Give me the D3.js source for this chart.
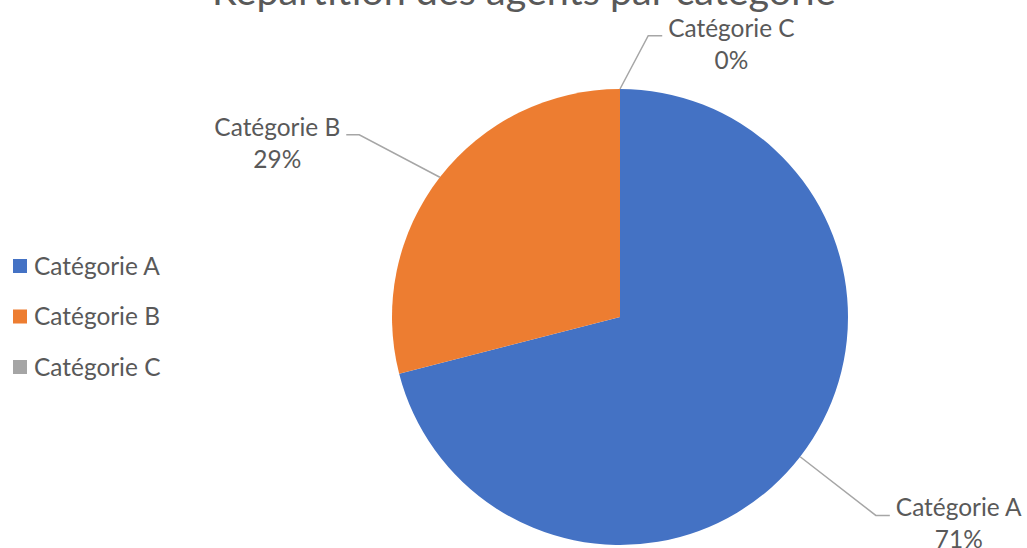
<!DOCTYPE html>
<html lang="fr">
<head>
<meta charset="utf-8">
<title>Répartition des agents par catégorie</title>
<script src="https://d3js.org/d3.v7.min.js"></script>
<style>
  html, body { margin: 0; padding: 0; background: #fff; }
  svg { display: block; }
  text { font-family: Lato, "Open Sans", sans-serif; fill: #595959; }
</style>
</head>
<body>
<svg id="chart" width="1027" height="548"></svg>
<script>
// data
var categories = ['Catégorie A', 'Catégorie B', 'Catégorie C'];
var values = [71, 29, 0];
var colors = ['#4472C4', '#ED7D31', '#A5A5A5'];
var title = 'Répartition des agents par catégorie';

var width = 1027, height = 548;
var cx = 620, cy = 317, radius = 228;

var svg = d3.select('#chart');

// scale a font size so that a sample string has the wanted width
function fitSize(str, target, guess) {
    var t = svg.append('text').style('font-size', guess + 'px').text(str);
    var w = t.node().getComputedTextLength();
    t.remove();
    return guess * target / w;
}
var labelSize = fitSize('Catégorie B', 126, 20);
var titleSize = fitSize(title, 624, 30);

// title, cut at the top like the original
svg.append('text')
    .attr('x', 524)
    .attr('y', 5)
    .attr('text-anchor', 'middle')
    .style('font-size', titleSize + 'px')
    .text(title);

var pie = d3.pie().sort(null).value(function (d) { return d; });
var arcs = pie(values);
var arc = d3.arc().innerRadius(0).outerRadius(radius);

var g = svg.append('g').attr('transform', 'translate(' + cx + ',' + cy + ')');

g.selectAll('path.slice')
    .data(arcs)
    .enter().append('path')
    .attr('class', 'slice')
    .attr('d', arc)
    .attr('fill', function (d, i) { return colors[i]; });

// data labels with leader lines
var total = d3.sum(values);
var elbowRadius = [1.42, 1.395, 1.24];
var elbowTurn = [0, -0.05, 0.1]; // small angular nudges, as the original placed them
var leader = d3.line();

arcs.forEach(function (d, i) {
    var mid = (d.startAngle + d.endAngle) / 2;
    var p0 = [radius * Math.sin(mid), -radius * Math.cos(mid)];
    var a1 = mid + elbowTurn[i];
    var p1 = [radius * elbowRadius[i] * Math.sin(a1), -radius * elbowRadius[i] * Math.cos(a1)];
    var right = Math.sin(a1) >= 0;
    var p2 = [p1[0] + (right ? 14 : -13), p1[1]];

    g.append('path')
        .attr('d', leader([p0, p1, p2]))
        .attr('fill', 'none')
        .attr('stroke', '#A6A6A6')
        .attr('stroke-width', 1.5);

    var tx = p2[0] + (right ? 6 : -6);
    var lbl = g.append('text')
        .attr('x', tx)
        .attr('y', p1[1] + 1)
        .attr('text-anchor', right ? 'start' : 'end')
        .style('font-size', labelSize + 'px')
        .text(categories[i]);
    var w = lbl.node().getComputedTextLength();
    g.append('text')
        .attr('x', right ? tx + w / 2 : tx - w / 2)
        .attr('y', p1[1] + 33)
        .attr('text-anchor', 'middle')
        .style('font-size', labelSize + 'px')
        .text(Math.round(values[i] / total * 100) + '%');
});

// legend
var legendY = d3.scalePoint().domain(categories).range([266, 367]);
var legend = svg.append('g');
var items = legend.selectAll('g.item')
    .data(categories)
    .enter().append('g')
    .attr('class', 'item')
    .attr('transform', function (d) { return 'translate(13,' + legendY(d) + ')'; });
items.append('rect')
    .attr('x', 0).attr('y', -7)
    .attr('width', 14).attr('height', 14)
    .attr('fill', function (d, i) { return colors[i]; });
items.append('text')
    .attr('x', 21)
    .attr('dy', '0.35em')
    .style('font-size', labelSize + 'px')
    .text(function (d) { return d; });
</script>
</body>
</html>
